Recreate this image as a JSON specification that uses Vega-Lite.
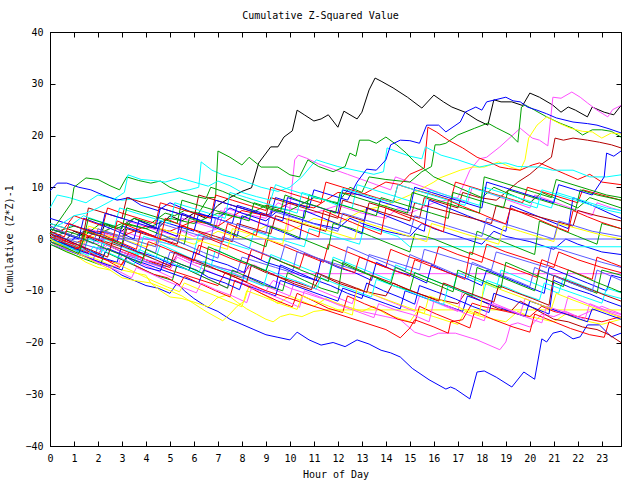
{"$schema":"https://vega.github.io/schema/vega-lite/v6.json","width":571,"height":414,"autosize":{"type":"none"},"padding":{"left":50,"top":32,"right":19,"bottom":34},"background":"white",
"title":{"text":"Cumulative Z-Squared Value","font":"DejaVu Sans Mono","fontSize":10,"fontWeight":"normal","color":"black","offset":6,"dx":-15},
"config":{"view":{"stroke":"black","strokeWidth":1},"axis":{"grid":false,"domainColor":"black","tickColor":"black","labelColor":"black","titleColor":"black","labelFont":"DejaVu Sans Mono","titleFont":"DejaVu Sans Mono","labelFontSize":10,"titleFontSize":10,"titleFontWeight":"normal","tickSize":-5}},
"data":{"values":[
{"s":1,"h":0,"v":0},{"s":1,"h":0.5,"v":-1},{"s":1,"h":1,"v":1.5},{"s":1,"h":1.5,"v":0.5},{"s":1,"h":2,"v":-0.5},{"s":1,"h":2.3,"v":3},{"s":1,"h":3,"v":1.5},{"s":1,"h":3.5,"v":4},{"s":1,"h":4,"v":3},{"s":1,"h":4.5,"v":2},{"s":1,"h":5,"v":4.5},{"s":1,"h":5.5,"v":3.5},{"s":1,"h":6,"v":5},{"s":1,"h":6.5,"v":4},{"s":1,"h":7,"v":6.5},{"s":1,"h":7.5,"v":8},{"s":1,"h":8,"v":9.2},{"s":1,"h":8.4,"v":9.9},{"s":1,"h":8.7,"v":14.7},{"s":1,"h":9.2,"v":17.8},{"s":1,"h":9.5,"v":17.8},{"s":1,"h":9.75,"v":19.7},{"s":1,"h":10.1,"v":20.9},{"s":1,"h":10.3,"v":24.9},{"s":1,"h":10.6,"v":24},{"s":1,"h":11,"v":22.8},{"s":1,"h":11.3,"v":23.2},{"s":1,"h":11.6,"v":24},{"s":1,"h":12,"v":21.6},{"s":1,"h":12.25,"v":24.7},{"s":1,"h":12.8,"v":23.2},{"s":1,"h":13,"v":24.5},{"s":1,"h":13.3,"v":28.8},{"s":1,"h":13.55,"v":31.1},{"s":1,"h":13.8,"v":30.5},{"s":1,"h":14.3,"v":29.2},{"s":1,"h":14.9,"v":27.4},{"s":1,"h":15.5,"v":25.3},{"s":1,"h":16,"v":27.8},{"s":1,"h":16.4,"v":26.5},{"s":1,"h":16.75,"v":25.5},{"s":1,"h":17.3,"v":24.5},{"s":1,"h":17.8,"v":23},{"s":1,"h":18.25,"v":22},{"s":1,"h":18.5,"v":26.9},{"s":1,"h":18.8,"v":26.5},{"s":1,"h":19.25,"v":26.5},{"s":1,"h":19.7,"v":25.8},{"s":1,"h":20,"v":28.2},{"s":1,"h":20.4,"v":27.4},{"s":1,"h":20.95,"v":25.9},{"s":1,"h":21.3,"v":24.5},{"s":1,"h":21.6,"v":25.5},{"s":1,"h":21.9,"v":24.9},{"s":1,"h":22.4,"v":23.6},{"s":1,"h":22.6,"v":25.5},{"s":1,"h":23.1,"v":24.5},{"s":1,"h":23.5,"v":24},{"s":1,"h":23.8,"v":25.8},
{"s":2,"h":0,"v":1},{"s":2,"h":0.5,"v":-0.5},{"s":2,"h":1,"v":-2},{"s":2,"h":1.5,"v":-3.5},{"s":2,"h":2,"v":-4.5},{"s":2,"h":2.5,"v":-5.5},{"s":2,"h":3,"v":-7},{"s":2,"h":3.5,"v":-8},{"s":2,"h":4,"v":-9},{"s":2,"h":4.5,"v":-9.5},{"s":2,"h":5,"v":-10.5},{"s":2,"h":5.3,"v":-8.5},{"s":2,"h":5.6,"v":-10},{"s":2,"h":6,"v":-11.5},{"s":2,"h":6.5,"v":-13},{"s":2,"h":7,"v":-14},{"s":2,"h":7.5,"v":-15.5},{"s":2,"h":8,"v":-16.5},{"s":2,"h":8.5,"v":-17.5},{"s":2,"h":9,"v":-18.5},{"s":2,"h":9.5,"v":-19},{"s":2,"h":10,"v":-19.5},{"s":2,"h":10.3,"v":-18},{"s":2,"h":10.8,"v":-19.5},{"s":2,"h":11.3,"v":-20.5},{"s":2,"h":11.8,"v":-20},{"s":2,"h":12.3,"v":-20.8},{"s":2,"h":12.8,"v":-19.5},{"s":2,"h":13.3,"v":-20.3},{"s":2,"h":13.8,"v":-21.5},{"s":2,"h":14.2,"v":-22},{"s":2,"h":14.6,"v":-22.8},{"s":2,"h":15.1,"v":-25},{"s":2,"h":15.8,"v":-27.2},{"s":2,"h":16.5,"v":-29},{"s":2,"h":16.7,"v":-28.6},{"s":2,"h":16.9,"v":-29},{"s":2,"h":17.5,"v":-30.9},{"s":2,"h":17.8,"v":-25.7},{"s":2,"h":18.1,"v":-25.5},{"s":2,"h":18.6,"v":-26.7},{"s":2,"h":19.25,"v":-28.6},{"s":2,"h":19.75,"v":-25.7},{"s":2,"h":20.2,"v":-27.1},{"s":2,"h":20.5,"v":-19.3},{"s":2,"h":20.7,"v":-19.9},{"s":2,"h":20.96,"v":-18.2},{"s":2,"h":21.3,"v":-17.8},{"s":2,"h":21.8,"v":-19.3},{"s":2,"h":22.1,"v":-18.9},{"s":2,"h":22.4,"v":-16.6},{"s":2,"h":22.9,"v":-16.6},{"s":2,"h":23.4,"v":-18.9},{"s":2,"h":23.8,"v":-18.2},
{"s":3,"h":0,"v":0},{"s":3,"h":1,"v":-2},{"s":3,"h":2,"v":-3.5},{"s":3,"h":2.4,"v":-1},{"s":3,"h":3,"v":-2.5},{"s":3,"h":4,"v":-4.5},{"s":3,"h":5,"v":-6},{"s":3,"h":5.3,"v":-3.5},{"s":3,"h":6,"v":-5},{"s":3,"h":7,"v":-7},{"s":3,"h":8,"v":-8.5},{"s":3,"h":9,"v":-10},{"s":3,"h":9.3,"v":-8},{"s":3,"h":10,"v":-9.5},{"s":3,"h":11,"v":-11},{"s":3,"h":12,"v":-12.5},{"s":3,"h":13,"v":-14},{"s":3,"h":14,"v":-15},{"s":3,"h":14.6,"v":-15.6},{"s":3,"h":15.2,"v":-18},{"s":3,"h":15.8,"v":-18.9},{"s":3,"h":16.2,"v":-18.2},{"s":3,"h":16.9,"v":-18.2},{"s":3,"h":17.8,"v":-19.5},{"s":3,"h":18.75,"v":-21.4},{"s":3,"h":19,"v":-19.9},{"s":3,"h":19.2,"v":-16.6},{"s":3,"h":19.5,"v":-16.2},{"s":3,"h":20,"v":-17},{"s":3,"h":20.5,"v":-14.5},{"s":3,"h":21,"v":-15},{"s":3,"h":21.5,"v":-14},{"s":3,"h":22,"v":-15},{"s":3,"h":22.5,"v":-14},{"s":3,"h":23,"v":-13},{"s":3,"h":23.8,"v":-14.5},
{"s":4,"h":0,"v":2},{"s":4,"h":1,"v":0.5},{"s":4,"h":2,"v":-1},{"s":4,"h":2.5,"v":2.5},{"s":4,"h":3,"v":1.5},{"s":4,"h":4,"v":0},{"s":4,"h":5,"v":-1},{"s":4,"h":5.5,"v":1.5},{"s":4,"h":6,"v":0.5},{"s":4,"h":7,"v":2},{"s":4,"h":7.3,"v":6},{"s":4,"h":8,"v":5},{"s":4,"h":9,"v":4},{"s":4,"h":9.5,"v":7},{"s":4,"h":10,"v":6},{"s":4,"h":11,"v":5},{"s":4,"h":12,"v":6.5},{"s":4,"h":13,"v":5},{"s":4,"h":14,"v":4},{"s":4,"h":14.5,"v":6},{"s":4,"h":15,"v":5},{"s":4,"h":16,"v":7},{"s":4,"h":17,"v":8},{"s":4,"h":17.1,"v":9},{"s":4,"h":17.5,"v":13.3},{"s":4,"h":17.9,"v":15.5},{"s":4,"h":18.2,"v":15.8},{"s":4,"h":18.75,"v":17.8},{"s":4,"h":19.6,"v":21.4},{"s":4,"h":20.1,"v":19.5},{"s":4,"h":20.4,"v":19.1},{"s":4,"h":20.75,"v":18},{"s":4,"h":20.96,"v":27.4},{"s":4,"h":21.3,"v":27.2},{"s":4,"h":21.75,"v":28.4},{"s":4,"h":22.1,"v":27.4},{"s":4,"h":22.4,"v":26.3},{"s":4,"h":22.8,"v":24.9},{"s":4,"h":23.25,"v":23.6},{"s":4,"h":23.45,"v":25},{"s":4,"h":23.8,"v":25.8},
{"s":5,"h":0,"v":0.5},{"s":5,"h":0.7,"v":-0.5},{"s":5,"h":1.4,"v":-1.5},{"s":5,"h":1.6,"v":2},{"s":5,"h":2.3,"v":1},{"s":5,"h":3,"v":0},{"s":5,"h":3.2,"v":3.5},{"s":5,"h":3.9,"v":2.5},{"s":5,"h":4.6,"v":1.5},{"s":5,"h":5.3,"v":0.5},{"s":5,"h":5.5,"v":4},{"s":5,"h":6.2,"v":3},{"s":5,"h":6.9,"v":2},{"s":5,"h":7.1,"v":5.5},{"s":5,"h":7.8,"v":4.5},{"s":5,"h":8.5,"v":3.5},{"s":5,"h":9.2,"v":2.5},{"s":5,"h":9.9,"v":1.5},{"s":5,"h":10.2,"v":15.3},{"s":5,"h":10.35,"v":16.2},{"s":5,"h":10.7,"v":15.6},{"s":5,"h":11.2,"v":14.5},{"s":5,"h":11.8,"v":13.5},{"s":5,"h":12.4,"v":12.5},{"s":5,"h":13,"v":11.5},{"s":5,"h":13.6,"v":10.5},{"s":5,"h":14.2,"v":9.5},{"s":5,"h":14.4,"v":12},{"s":5,"h":15,"v":11},{"s":5,"h":15.6,"v":10},{"s":5,"h":16.2,"v":9},{"s":5,"h":16.8,"v":8},{"s":5,"h":17.4,"v":7},{"s":5,"h":17.6,"v":10},{"s":5,"h":18.2,"v":9},{"s":5,"h":18.8,"v":8},{"s":5,"h":19.4,"v":7},{"s":5,"h":20,"v":6},{"s":5,"h":20.2,"v":8.5},{"s":5,"h":20.8,"v":7.5},{"s":5,"h":21.4,"v":6.5},{"s":5,"h":22,"v":5.5},{"s":5,"h":22.6,"v":4.5},{"s":5,"h":22.8,"v":7},{"s":5,"h":23.4,"v":6},{"s":5,"h":23.8,"v":5.5},
{"s":6,"h":0,"v":1},{"s":6,"h":1,"v":2.5},{"s":6,"h":2,"v":1},{"s":6,"h":3,"v":3},{"s":6,"h":4,"v":2},{"s":6,"h":5,"v":4},{"s":6,"h":6,"v":3},{"s":6,"h":7,"v":5},{"s":6,"h":8,"v":4},{"s":6,"h":9,"v":6.5},{"s":6,"h":10,"v":5.5},{"s":6,"h":11,"v":8},{"s":6,"h":12,"v":7},{"s":6,"h":12.5,"v":10},{"s":6,"h":13,"v":9},{"s":6,"h":13.3,"v":12},{"s":6,"h":14,"v":11.5},{"s":6,"h":15,"v":11},{"s":6,"h":15.5,"v":13},{"s":6,"h":15.9,"v":14},{"s":6,"h":16.05,"v":18.2},{"s":6,"h":16.25,"v":18.2},{"s":6,"h":16.5,"v":18.5},{"s":6,"h":17,"v":20.1},{"s":6,"h":17.7,"v":21.4},{"s":6,"h":18.25,"v":22.4},{"s":6,"h":18.6,"v":21.5},{"s":6,"h":19.2,"v":20.1},{"s":6,"h":19.5,"v":18.7},{"s":6,"h":19.65,"v":25.5},{"s":6,"h":19.8,"v":25.9},{"s":6,"h":20.2,"v":24.9},{"s":6,"h":20.7,"v":23.6},{"s":6,"h":21.25,"v":22.4},{"s":6,"h":21.8,"v":21.4},{"s":6,"h":22.2,"v":20.1},{"s":6,"h":22.6,"v":21.1},{"s":6,"h":23,"v":21.1},{"s":6,"h":23.4,"v":20.8},{"s":6,"h":23.8,"v":19.7},
{"s":7,"h":0,"v":0},{"s":7,"h":1,"v":-1.5},{"s":7,"h":2,"v":1},{"s":7,"h":3,"v":0},{"s":7,"h":4,"v":-1.5},{"s":7,"h":5,"v":0.5},{"s":7,"h":6,"v":-1},{"s":7,"h":7,"v":1.5},{"s":7,"h":8,"v":0},{"s":7,"h":9,"v":2.5},{"s":7,"h":10,"v":1.5},{"s":7,"h":11,"v":4},{"s":7,"h":12,"v":3},{"s":7,"h":13,"v":5.5},{"s":7,"h":14,"v":6.5},{"s":7,"h":15,"v":8.5},{"s":7,"h":16,"v":11},{"s":7,"h":16.25,"v":11.8},{"s":7,"h":17.1,"v":13.3},{"s":7,"h":17.6,"v":13.9},{"s":7,"h":18.1,"v":13.9},{"s":7,"h":18.7,"v":14.9},{"s":7,"h":19.2,"v":13.9},{"s":7,"h":19.6,"v":13.3},{"s":7,"h":19.8,"v":15.3},{"s":7,"h":19.95,"v":19.5},{"s":7,"h":20.3,"v":22},{"s":7,"h":20.7,"v":23.6},{"s":7,"h":21.2,"v":22.4},{"s":7,"h":21.7,"v":21.4},{"s":7,"h":22.2,"v":20.8},{"s":7,"h":22.6,"v":20.7},{"s":7,"h":23,"v":19.5},{"s":7,"h":23.4,"v":20.5},{"s":7,"h":23.8,"v":20.3},
{"s":8,"h":0,"v":0.5},{"s":8,"h":1,"v":-1},{"s":8,"h":2,"v":1.5},{"s":8,"h":3,"v":0.5},{"s":8,"h":4,"v":2.5},{"s":8,"h":5,"v":1.5},{"s":8,"h":6,"v":3.5},{"s":8,"h":7,"v":2.5},{"s":8,"h":8,"v":5.5},{"s":8,"h":9,"v":4.5},{"s":8,"h":10,"v":7},{"s":8,"h":11,"v":6},{"s":8,"h":12,"v":9},{"s":8,"h":13,"v":8.5},{"s":8,"h":14,"v":11},{"s":8,"h":14.6,"v":10.5},{"s":8,"h":15,"v":12.5},{"s":8,"h":15.6,"v":13.7},{"s":8,"h":15.75,"v":21.6},{"s":8,"h":16.1,"v":20.7},{"s":8,"h":16.6,"v":19.1},{"s":8,"h":17.2,"v":17.6},{"s":8,"h":17.8,"v":15.8},{"s":8,"h":18.3,"v":14.9},{"s":8,"h":18.75,"v":13.9},{"s":8,"h":19.1,"v":13.6},{"s":8,"h":19.6,"v":13.3},{"s":8,"h":20.1,"v":14.3},{"s":8,"h":20.4,"v":14.7},{"s":8,"h":21,"v":13.5},{"s":8,"h":21.5,"v":12.5},{"s":8,"h":22,"v":11.5},{"s":8,"h":22.5,"v":12.5},{"s":8,"h":23,"v":11},{"s":8,"h":23.8,"v":10.5},
{"s":9,"h":0,"v":-0.5},{"s":9,"h":0.7,"v":-1.5},{"s":9,"h":1.4,"v":-2.5},{"s":9,"h":1.6,"v":0.5},{"s":9,"h":2.3,"v":-0.5},{"s":9,"h":3,"v":-1.5},{"s":9,"h":3.2,"v":2},{"s":9,"h":3.9,"v":1},{"s":9,"h":4.6,"v":0},{"s":9,"h":5.3,"v":-1},{"s":9,"h":5.5,"v":2.5},{"s":9,"h":6.2,"v":1.5},{"s":9,"h":6.9,"v":0.5},{"s":9,"h":7.6,"v":-0.5},{"s":9,"h":7.8,"v":3},{"s":9,"h":8.5,"v":2},{"s":9,"h":9.2,"v":1},{"s":9,"h":9.4,"v":4.5},{"s":9,"h":10.1,"v":3.5},{"s":9,"h":10.8,"v":2.5},{"s":9,"h":11.5,"v":1.5},{"s":9,"h":11.7,"v":5.5},{"s":9,"h":12.4,"v":4.5},{"s":9,"h":13.1,"v":3.5},{"s":9,"h":13.3,"v":7},{"s":9,"h":14,"v":6},{"s":9,"h":14.7,"v":5},{"s":9,"h":15.4,"v":4},{"s":9,"h":15.6,"v":8},{"s":9,"h":16.3,"v":7},{"s":9,"h":17,"v":6},{"s":9,"h":17.2,"v":9},{"s":9,"h":17.9,"v":8},{"s":9,"h":18.6,"v":7.5},{"s":9,"h":19,"v":9},{"s":9,"h":19.5,"v":11},{"s":9,"h":20,"v":12.5},{"s":9,"h":20.5,"v":14.5},{"s":9,"h":20.9,"v":15.8},{"s":9,"h":21.05,"v":19.5},{"s":9,"h":21.4,"v":19.1},{"s":9,"h":21.8,"v":19.5},{"s":9,"h":22.4,"v":19.1},{"s":9,"h":22.9,"v":18.7},{"s":9,"h":23.4,"v":18.2},{"s":9,"h":23.8,"v":17.6},
{"s":10,"h":0,"v":6},{"s":10,"h":0.3,"v":8.5},{"s":10,"h":0.8,"v":8},{"s":10,"h":1.5,"v":7},{"s":10,"h":2,"v":8.5},{"s":10,"h":3,"v":7.5},{"s":10,"h":4,"v":8},{"s":10,"h":5,"v":9},{"s":10,"h":5.8,"v":9.5},{"s":10,"h":6.2,"v":10},{"s":10,"h":6.3,"v":14.9},{"s":10,"h":6.75,"v":13.3},{"s":10,"h":7.2,"v":12.4},{"s":10,"h":7.7,"v":11.8},{"s":10,"h":8.2,"v":11},{"s":10,"h":8.8,"v":10},{"s":10,"h":9.5,"v":9.2},{"s":10,"h":10,"v":10},{"s":10,"h":10.5,"v":12},{"s":10,"h":11.1,"v":15.3},{"s":10,"h":11.5,"v":14.7},{"s":10,"h":12,"v":14},{"s":10,"h":12.5,"v":13.5},{"s":10,"h":13,"v":13},{"s":10,"h":13.5,"v":12.5},{"s":10,"h":13.9,"v":13},{"s":10,"h":14.05,"v":17.6},{"s":10,"h":14.5,"v":16.8},{"s":10,"h":15,"v":16},{"s":10,"h":15.5,"v":15.5},{"s":10,"h":15.65,"v":17.8},{"s":10,"h":16.3,"v":16.2},{"s":10,"h":17,"v":15.3},{"s":10,"h":17.9,"v":13.9},{"s":10,"h":18.5,"v":14.5},{"s":10,"h":19,"v":14.7},{"s":10,"h":19.5,"v":14},{"s":10,"h":20.4,"v":13.9},{"s":10,"h":20.95,"v":13.3},{"s":10,"h":21.8,"v":13.3},{"s":10,"h":22.5,"v":12},{"s":10,"h":23.2,"v":12},{"s":10,"h":23.8,"v":12.4},
{"s":11,"h":0,"v":9.3},{"s":11,"h":0.3,"v":10.8},{"s":11,"h":0.7,"v":10.8},{"s":11,"h":1.2,"v":10},{"s":11,"h":1.7,"v":9.5},{"s":11,"h":2.2,"v":8.5},{"s":11,"h":2.8,"v":7.5},{"s":11,"h":3.3,"v":8},{"s":11,"h":3.8,"v":6.5},{"s":11,"h":4.5,"v":5.5},{"s":11,"h":5,"v":7},{"s":11,"h":5.5,"v":6},{"s":11,"h":6,"v":5},{"s":11,"h":7,"v":4},{"s":11,"h":7.5,"v":6},{"s":11,"h":8,"v":5},{"s":11,"h":9,"v":3.5},{"s":11,"h":9.5,"v":5.5},{"s":11,"h":10,"v":4.5},{"s":11,"h":11,"v":3},{"s":11,"h":12,"v":2},{"s":11,"h":12.5,"v":4},{"s":11,"h":13,"v":3},{"s":11,"h":14,"v":1.5},{"s":11,"h":15,"v":0.5},{"s":11,"h":15.5,"v":3},{"s":11,"h":16,"v":2},{"s":11,"h":17,"v":0.5},{"s":11,"h":18,"v":-1},{"s":11,"h":18.5,"v":1.5},{"s":11,"h":19,"v":0.5},{"s":11,"h":20,"v":-0.5},{"s":11,"h":21,"v":-2},{"s":11,"h":21.5,"v":0},{"s":11,"h":22,"v":-1},{"s":11,"h":23,"v":-2.5},{"s":11,"h":23.8,"v":-3},
{"s":12,"h":0,"v":-0.5},{"s":12,"h":0.5,"v":-2},{"s":12,"h":1,"v":-3},{"s":12,"h":1.5,"v":-4.5},{"s":12,"h":2,"v":-5.5},{"s":12,"h":2.5,"v":-6},{"s":12,"h":3,"v":-7.5},{"s":12,"h":3.5,"v":-8},{"s":12,"h":4.2,"v":-8.5},{"s":12,"h":4.6,"v":-10},{"s":12,"h":5,"v":-11.2},{"s":12,"h":5.5,"v":-11.5},{"s":12,"h":6,"v":-12.2},{"s":12,"h":6.6,"v":-13.1},{"s":12,"h":6.96,"v":-11.4},{"s":12,"h":7.4,"v":-10.8},{"s":12,"h":7.8,"v":-12.2},{"s":12,"h":8.2,"v":-13.5},{"s":12,"h":8.6,"v":-14.5},{"s":12,"h":9,"v":-15.5},{"s":12,"h":9.3,"v":-16},{"s":12,"h":9.6,"v":-15},{"s":12,"h":10,"v":-14.5},{"s":12,"h":10.5,"v":-15},{"s":12,"h":11,"v":-14},{"s":12,"h":11.5,"v":-13.7},{"s":12,"h":23.8,"v":-13.7},
{"s":13,"h":0,"v":0},{"s":13,"h":1,"v":-2.5},{"s":13,"h":2,"v":-4},{"s":13,"h":3,"v":-6},{"s":13,"h":4,"v":-7},{"s":13,"h":4.2,"v":-8.5},{"s":13,"h":5,"v":-10},{"s":13,"h":5.5,"v":-11},{"s":13,"h":6,"v":-12.5},{"s":13,"h":6.5,"v":-14},{"s":13,"h":7.2,"v":-15.8},{"s":13,"h":7.5,"v":-14.5},{"s":13,"h":7.8,"v":-13},{"s":13,"h":8.1,"v":-12},{"s":13,"h":8.3,"v":-9},{"s":13,"h":8.6,"v":-10},{"s":13,"h":9,"v":-11},{"s":13,"h":9.5,"v":-12.5},{"s":13,"h":10,"v":-11},{"s":13,"h":11,"v":-13},{"s":13,"h":11.5,"v":-11.5},{"s":13,"h":12,"v":-12.5},{"s":13,"h":13,"v":-14},{"s":13,"h":13.5,"v":-13},{"s":13,"h":14,"v":-14.5},{"s":13,"h":15,"v":-16},{"s":13,"h":15.3,"v":-14},{"s":13,"h":16,"v":-15},{"s":13,"h":17,"v":-16.5},{"s":13,"h":17.3,"v":-14},{"s":13,"h":18,"v":-15},{"s":13,"h":19,"v":-16},{"s":13,"h":19.5,"v":-14},{"s":13,"h":20,"v":-15},{"s":13,"h":21,"v":-16},{"s":13,"h":21.5,"v":-14.5},{"s":13,"h":22,"v":-15.5},{"s":13,"h":23,"v":-16.5},{"s":13,"h":23.8,"v":-15.5},
{"s":14,"h":0,"v":0},{"s":14,"h":1,"v":-1.5},{"s":14,"h":2,"v":-3},{"s":14,"h":2.3,"v":-1},{"s":14,"h":3,"v":-2.5},{"s":14,"h":4,"v":-4},{"s":14,"h":5,"v":-5.5},{"s":14,"h":5.3,"v":-3},{"s":14,"h":6,"v":-4.5},{"s":14,"h":7,"v":-6},{"s":14,"h":8,"v":-7.5},{"s":14,"h":8.3,"v":-5},{"s":14,"h":9,"v":-6.5},{"s":14,"h":10,"v":-8},{"s":14,"h":11,"v":-9.5},{"s":14,"h":11.3,"v":-7},{"s":14,"h":12,"v":-8.5},{"s":14,"h":13,"v":-10},{"s":14,"h":14,"v":-11},{"s":14,"h":14.3,"v":-8.5},{"s":14,"h":15,"v":-10},{"s":14,"h":16,"v":-11.5},{"s":14,"h":17,"v":-12.5},{"s":14,"h":17.3,"v":-10.5},{"s":14,"h":18,"v":-12},{"s":14,"h":18.7,"v":-13.5},{"s":14,"h":19.2,"v":-14},{"s":14,"h":19.6,"v":-12},{"s":14,"h":20,"v":-13},{"s":14,"h":20.6,"v":-14.5},{"s":14,"h":21,"v":-15.5},{"s":14,"h":21.6,"v":-16},{"s":14,"h":22.2,"v":-17},{"s":14,"h":22.8,"v":-17.5},{"s":14,"h":23.3,"v":-18.5},{"s":14,"h":23.8,"v":-20},
{"s":15,"h":0,"v":0},{"s":15,"h":1,"v":-1.5},{"s":15,"h":2,"v":-3.5},{"s":15,"h":3,"v":-5},{"s":15,"h":3.3,"v":-2.5},{"s":15,"h":4,"v":-4},{"s":15,"h":5,"v":-6},{"s":15,"h":6,"v":-7.5},{"s":15,"h":7,"v":-9},{"s":15,"h":7.3,"v":-6.5},{"s":15,"h":8,"v":-8},{"s":15,"h":9,"v":-10},{"s":15,"h":10,"v":-11.5},{"s":15,"h":11,"v":-13},{"s":15,"h":12,"v":-14.5},{"s":15,"h":13,"v":-16},{"s":15,"h":14,"v":-17.5},{"s":15,"h":14.6,"v":-19.1},{"s":15,"h":15,"v":-17.2},{"s":15,"h":15.2,"v":-15.6},{"s":15,"h":16,"v":-17},{"s":15,"h":16.6,"v":-18.2},{"s":15,"h":16.7,"v":-16},{"s":15,"h":17.2,"v":-15.6},{"s":15,"h":17.6,"v":-12.4},{"s":15,"h":18,"v":-13},{"s":15,"h":19,"v":-14},{"s":15,"h":20,"v":-15},{"s":15,"h":20.5,"v":-13},{"s":15,"h":21,"v":-14},{"s":15,"h":22,"v":-15},{"s":15,"h":23,"v":-16},{"s":15,"h":23.8,"v":-15},
{"s":16,"h":0,"v":0},{"s":16,"h":23.8,"v":0},
{"s":17,"h":0,"v":0},{"s":17,"h":1,"v":-1.5},{"s":17,"h":2,"v":-3},{"s":17,"h":2.3,"v":-1},{"s":17,"h":3,"v":-2.5},{"s":17,"h":4,"v":-4},{"s":17,"h":5,"v":-5},{"s":17,"h":5.3,"v":-3},{"s":17,"h":6,"v":-4.5},{"s":17,"h":7,"v":-5.5},{"s":17,"h":8,"v":-6.5},{"s":17,"h":8.5,"v":-5},{"s":17,"h":9.2,"v":-6.7},{"s":17,"h":23.8,"v":-6.7},
{"s":18,"h":0,"v":-0.5},{"s":18,"h":0.7,"v":-1.5},{"s":18,"h":1.4,"v":-2.5},{"s":18,"h":1.6,"v":0},{"s":18,"h":2.3,"v":-1},{"s":18,"h":3,"v":-2},{"s":18,"h":3.7,"v":-3},{"s":18,"h":3.9,"v":0.5},{"s":18,"h":4.6,"v":-0.5},{"s":18,"h":5.3,"v":-1.5},{"s":18,"h":6,"v":-2.5},{"s":18,"h":6.2,"v":1},{"s":18,"h":6.9,"v":0},{"s":18,"h":7.6,"v":-1},{"s":18,"h":8.3,"v":-2},{"s":18,"h":8.5,"v":1.5},{"s":18,"h":9.2,"v":0.5},{"s":18,"h":9.9,"v":-0.5},{"s":18,"h":10.6,"v":-1.5},{"s":18,"h":10.8,"v":2},{"s":18,"h":11.5,"v":1},{"s":18,"h":12.2,"v":0},{"s":18,"h":12.9,"v":-1},{"s":18,"h":13.1,"v":2.5},{"s":18,"h":13.8,"v":1.5},{"s":18,"h":14.5,"v":0.5},{"s":18,"h":15,"v":-1.5},{"s":18,"h":23.8,"v":-1.5},
{"s":19,"h":0,"v":0},{"s":19,"h":0.7,"v":1.5},{"s":19,"h":1.4,"v":0.5},{"s":19,"h":2.1,"v":3},{"s":19,"h":2.8,"v":2},{"s":19,"h":3.5,"v":4},{"s":19,"h":4.2,"v":3},{"s":19,"h":4.8,"v":5},{"s":19,"h":5.2,"v":4.5},{"s":19,"h":5.6,"v":5.5},{"s":19,"h":6.2,"v":5},{"s":19,"h":6.6,"v":8},{"s":19,"h":6.9,"v":8},{"s":19,"h":7,"v":17},{"s":19,"h":7.5,"v":15.8},{"s":19,"h":8,"v":14.3},{"s":19,"h":8.3,"v":15.8},{"s":19,"h":8.8,"v":13.9},{"s":19,"h":9.5,"v":13.9},{"s":19,"h":10,"v":12.4},{"s":19,"h":10.4,"v":12},{"s":19,"h":10.75,"v":15.3},{"s":19,"h":11.2,"v":14},{"s":19,"h":11.8,"v":13},{"s":19,"h":12.3,"v":14},{"s":19,"h":12.5,"v":16.6},{"s":19,"h":12.75,"v":16},{"s":19,"h":12.9,"v":19.1},{"s":19,"h":13.3,"v":19.1},{"s":19,"h":13.6,"v":18.5},{"s":19,"h":14,"v":19.7},{"s":19,"h":14.45,"v":18.2},{"s":19,"h":14.85,"v":16.6},{"s":19,"h":15.2,"v":14.9},{"s":19,"h":15.6,"v":13.5},{"s":19,"h":16,"v":12},{"s":19,"h":16.5,"v":11},{"s":19,"h":17,"v":10},{"s":19,"h":17.5,"v":9},{"s":19,"h":18,"v":8},{"s":19,"h":18.5,"v":10},{"s":19,"h":19,"v":9},{"s":19,"h":20,"v":7},{"s":19,"h":20.5,"v":9},{"s":19,"h":21,"v":8},{"s":19,"h":22,"v":6},{"s":19,"h":22.5,"v":8},{"s":19,"h":23.8,"v":6},
{"s":20,"h":0,"v":0},{"s":20,"h":0.7,"v":-1},{"s":20,"h":1.4,"v":1.5},{"s":20,"h":2.1,"v":0.5},{"s":20,"h":2.8,"v":-0.5},{"s":20,"h":3,"v":2.5},{"s":20,"h":3.7,"v":1.5},{"s":20,"h":4.4,"v":0.5},{"s":20,"h":4.6,"v":3.5},{"s":20,"h":5.3,"v":2.5},{"s":20,"h":6,"v":1.5},{"s":20,"h":6.2,"v":5},{"s":20,"h":6.9,"v":4},{"s":20,"h":7.6,"v":3},{"s":20,"h":7.8,"v":6.5},{"s":20,"h":8.5,"v":5.5},{"s":20,"h":9.2,"v":4.5},{"s":20,"h":9.4,"v":8},{"s":20,"h":10.1,"v":7},{"s":20,"h":10.8,"v":6},{"s":20,"h":11,"v":9.5},{"s":20,"h":11.7,"v":8.5},{"s":20,"h":12.4,"v":7.5},{"s":20,"h":12.8,"v":11},{"s":20,"h":13.2,"v":13.5},{"s":20,"h":13.6,"v":13.3},{"s":20,"h":14,"v":15.3},{"s":20,"h":14.2,"v":18.2},{"s":20,"h":14.6,"v":19.1},{"s":20,"h":15,"v":19},{"s":20,"h":15.4,"v":18.5},{"s":20,"h":15.7,"v":22},{"s":20,"h":16.2,"v":22},{"s":20,"h":16.5,"v":20.7},{"s":20,"h":17.1,"v":22.6},{"s":20,"h":17.3,"v":24.5},{"s":20,"h":17.75,"v":25.5},{"s":20,"h":18,"v":24.9},{"s":20,"h":18.2,"v":26.5},{"s":20,"h":19,"v":27.4},{"s":20,"h":19.3,"v":26.7},{"s":20,"h":19.6,"v":26.5},{"s":20,"h":19.9,"v":25.5},{"s":20,"h":20.3,"v":24.9},{"s":20,"h":20.7,"v":24.2},{"s":20,"h":21.1,"v":23.4},{"s":20,"h":21.8,"v":22.6},{"s":20,"h":22.4,"v":22.3},{"s":20,"h":22.8,"v":22},{"s":20,"h":23.3,"v":21.3},{"s":20,"h":23.8,"v":20.5},
{"s":21,"h":0,"v":1},{"s":21,"h":0.7,"v":-0.5},{"s":21,"h":1.3,"v":-1.8},{"s":21,"h":1.5,"v":2},{"s":21,"h":2.2,"v":0.8},{"s":21,"h":3,"v":-0.8},{"s":21,"h":3.6,"v":-2},{"s":21,"h":3.8,"v":1.5},{"s":21,"h":4.6,"v":0},{"s":21,"h":5.4,"v":-1.5},{"s":21,"h":6.2,"v":-3},{"s":21,"h":6.4,"v":0.5},{"s":21,"h":7.2,"v":-1},{"s":21,"h":8,"v":-2.5},{"s":21,"h":8.8,"v":-4},{"s":21,"h":9,"v":0},{"s":21,"h":9.8,"v":-1.5},{"s":21,"h":10.6,"v":-3},{"s":21,"h":11.4,"v":-4.5},{"s":21,"h":11.6,"v":-1},{"s":21,"h":12.4,"v":-2.5},{"s":21,"h":13.2,"v":-4},{"s":21,"h":14,"v":-5.5},{"s":21,"h":14.2,"v":-2},{"s":21,"h":15,"v":-3.5},{"s":21,"h":16,"v":-5},{"s":21,"h":16.2,"v":-1.5},{"s":21,"h":17,"v":-3},{"s":21,"h":18,"v":-4.5},{"s":21,"h":18.2,"v":-1},{"s":21,"h":19,"v":-2.5},{"s":21,"h":20,"v":-4},{"s":21,"h":21,"v":-5.5},{"s":21,"h":21.2,"v":-2.5},{"s":21,"h":22,"v":-4},{"s":21,"h":23,"v":-5.5},{"s":21,"h":23.8,"v":-6.5},
{"s":22,"h":0,"v":2},{"s":22,"h":0.6,"v":1},{"s":22,"h":1.2,"v":0},{"s":22,"h":1.4,"v":4},{"s":22,"h":2,"v":3},{"s":22,"h":2.8,"v":1.5},{"s":22,"h":3.5,"v":0},{"s":22,"h":3.7,"v":3.5},{"s":22,"h":4.5,"v":2},{"s":22,"h":5.3,"v":0.5},{"s":22,"h":5.5,"v":5},{"s":22,"h":6.3,"v":3.5},{"s":22,"h":7,"v":2},{"s":22,"h":7.8,"v":0.5},{"s":22,"h":8,"v":4.5},{"s":22,"h":8.8,"v":3},{"s":22,"h":9.6,"v":1.5},{"s":22,"h":10.4,"v":0},{"s":22,"h":10.6,"v":5.5},{"s":22,"h":11.4,"v":4},{"s":22,"h":12.2,"v":2.5},{"s":22,"h":13,"v":1},{"s":22,"h":13.2,"v":6},{"s":22,"h":14,"v":4.5},{"s":22,"h":14.8,"v":3},{"s":22,"h":15.6,"v":1.5},{"s":22,"h":15.8,"v":7.5},{"s":22,"h":16.6,"v":6},{"s":22,"h":17.4,"v":4.5},{"s":22,"h":18.2,"v":3},{"s":22,"h":19,"v":1.5},{"s":22,"h":19.2,"v":6.5},{"s":22,"h":20,"v":5},{"s":22,"h":20.8,"v":3.5},{"s":22,"h":21.6,"v":2},{"s":22,"h":21.8,"v":8},{"s":22,"h":22.6,"v":6.5},{"s":22,"h":23.3,"v":5},{"s":22,"h":23.8,"v":4},
{"s":23,"h":0,"v":0},{"s":23,"h":0.6,"v":-1},{"s":23,"h":1.2,"v":-2},{"s":23,"h":1.4,"v":1.5},{"s":23,"h":2.2,"v":0.5},{"s":23,"h":3,"v":-1},{"s":23,"h":3.2,"v":3},{"s":23,"h":4,"v":2},{"s":23,"h":4.8,"v":0.5},{"s":23,"h":5.6,"v":-1},{"s":23,"h":5.8,"v":4},{"s":23,"h":6.6,"v":3},{"s":23,"h":7.4,"v":1.5},{"s":23,"h":8.2,"v":0},{"s":23,"h":9,"v":-1.5},{"s":23,"h":9.2,"v":2.5},{"s":23,"h":10,"v":1},{"s":23,"h":10.8,"v":-0.5},{"s":23,"h":11.6,"v":-2},{"s":23,"h":11.8,"v":3},{"s":23,"h":12.6,"v":2},{"s":23,"h":13.4,"v":0.5},{"s":23,"h":14.2,"v":-1},{"s":23,"h":15,"v":-2.5},{"s":23,"h":15.2,"v":1},{"s":23,"h":16,"v":0},{"s":23,"h":16.8,"v":-1.5},{"s":23,"h":17.6,"v":-3},{"s":23,"h":17.8,"v":1.5},{"s":23,"h":18.6,"v":0},{"s":23,"h":19.4,"v":-1.5},{"s":23,"h":20.2,"v":-3},{"s":23,"h":20.4,"v":3.5},{"s":23,"h":21.2,"v":2},{"s":23,"h":22,"v":0.5},{"s":23,"h":22.8,"v":-1},{"s":23,"h":23,"v":3},{"s":23,"h":23.8,"v":2},
{"s":24,"h":0,"v":0.5},{"s":24,"h":0.7,"v":-0.8},{"s":24,"h":1.4,"v":-2},{"s":24,"h":2.1,"v":-3.2},{"s":24,"h":2.3,"v":0},{"s":24,"h":3,"v":-1.5},{"s":24,"h":3.7,"v":-2.8},{"s":24,"h":4.4,"v":-4},{"s":24,"h":4.6,"v":-1},{"s":24,"h":5.3,"v":-2.5},{"s":24,"h":6,"v":-4},{"s":24,"h":6.7,"v":-5.5},{"s":24,"h":6.9,"v":-2},{"s":24,"h":7.6,"v":-3.5},{"s":24,"h":8.3,"v":-5},{"s":24,"h":9,"v":-6},{"s":24,"h":9.2,"v":-3},{"s":24,"h":10,"v":-4.5},{"s":24,"h":10.8,"v":-6},{"s":24,"h":11.6,"v":-7.5},{"s":24,"h":11.8,"v":-3.5},{"s":24,"h":12.6,"v":-5},{"s":24,"h":13.4,"v":-6.5},{"s":24,"h":14.2,"v":-8},{"s":24,"h":14.4,"v":-5},{"s":24,"h":15.2,"v":-6.5},{"s":24,"h":16,"v":-8},{"s":24,"h":16.8,"v":-9.5},{"s":24,"h":17,"v":-6.5},{"s":24,"h":17.8,"v":-8},{"s":24,"h":18.6,"v":-9.5},{"s":24,"h":18.8,"v":-6},{"s":24,"h":19.6,"v":-7.5},{"s":24,"h":20.4,"v":-9},{"s":24,"h":21.2,"v":-10.5},{"s":24,"h":21.4,"v":-7.5},{"s":24,"h":22.2,"v":-9},{"s":24,"h":23,"v":-10.5},{"s":24,"h":23.8,"v":-11.5},
{"s":25,"h":0,"v":-0.5},{"s":25,"h":0.7,"v":-2},{"s":25,"h":1.4,"v":-3.2},{"s":25,"h":2.1,"v":-4.5},{"s":25,"h":2.8,"v":-5.5},{"s":25,"h":3,"v":-3},{"s":25,"h":3.7,"v":-4.5},{"s":25,"h":4.4,"v":-6},{"s":25,"h":5.1,"v":-7.5},{"s":25,"h":5.3,"v":-5},{"s":25,"h":6,"v":-6.5},{"s":25,"h":6.7,"v":-8},{"s":25,"h":7.4,"v":-9.5},{"s":25,"h":7.6,"v":-6.5},{"s":25,"h":8.4,"v":-8},{"s":25,"h":9.2,"v":-9.5},{"s":25,"h":10,"v":-11},{"s":25,"h":10.2,"v":-8},{"s":25,"h":11,"v":-9.5},{"s":25,"h":11.8,"v":-11},{"s":25,"h":12.6,"v":-12.5},{"s":25,"h":12.8,"v":-9.5},{"s":25,"h":13.6,"v":-11},{"s":25,"h":14.4,"v":-12.5},{"s":25,"h":15.2,"v":-14},{"s":25,"h":15.4,"v":-11},{"s":25,"h":16.2,"v":-12.5},{"s":25,"h":17,"v":-14},{"s":25,"h":17.2,"v":-10},{"s":25,"h":18,"v":-11.5},{"s":25,"h":18.8,"v":-13},{"s":25,"h":19.6,"v":-14.5},{"s":25,"h":19.8,"v":-11.5},{"s":25,"h":20.6,"v":-13},{"s":25,"h":21.4,"v":-14.5},{"s":25,"h":21.6,"v":-11},{"s":25,"h":22.4,"v":-12.5},{"s":25,"h":23.2,"v":-14},{"s":25,"h":23.8,"v":-15},
{"s":26,"h":0,"v":2.5},{"s":26,"h":0.5,"v":1.5},{"s":26,"h":1,"v":4.5},{"s":26,"h":1.6,"v":3.5},{"s":26,"h":2.2,"v":2.5},{"s":26,"h":2.4,"v":6},{"s":26,"h":3,"v":5},{"s":26,"h":3.7,"v":4},{"s":26,"h":4.4,"v":3},{"s":26,"h":4.6,"v":7},{"s":26,"h":5.3,"v":6},{"s":26,"h":6,"v":5},{"s":26,"h":6.7,"v":4},{"s":26,"h":6.9,"v":8.5},{"s":26,"h":7.6,"v":7.5},{"s":26,"h":8.3,"v":6.5},{"s":26,"h":9,"v":5.5},{"s":26,"h":9.2,"v":10},{"s":26,"h":9.9,"v":9},{"s":26,"h":10.6,"v":8},{"s":26,"h":11.3,"v":7},{"s":26,"h":11.5,"v":11},{"s":26,"h":12.2,"v":10},{"s":26,"h":12.9,"v":9},{"s":26,"h":13.6,"v":8},{"s":26,"h":14.3,"v":7},{"s":26,"h":14.5,"v":10.5},{"s":26,"h":15.2,"v":9.5},{"s":26,"h":16,"v":8.5},{"s":26,"h":16.7,"v":7.5},{"s":26,"h":16.9,"v":11},{"s":26,"h":17.6,"v":10},{"s":26,"h":18.3,"v":9},{"s":26,"h":19,"v":8},{"s":26,"h":19.7,"v":7},{"s":26,"h":19.9,"v":10},{"s":26,"h":20.6,"v":9},{"s":26,"h":21.3,"v":8},{"s":26,"h":22,"v":7},{"s":26,"h":22.2,"v":9.5},{"s":26,"h":23,"v":8.5},{"s":26,"h":23.8,"v":7.5},
{"s":27,"h":0,"v":0},{"s":27,"h":0.7,"v":-1.2},{"s":27,"h":1.4,"v":-2.5},{"s":27,"h":2.1,"v":-3.5},{"s":27,"h":2.8,"v":-4.5},{"s":27,"h":3,"v":-1},{"s":27,"h":3.7,"v":-2.5},{"s":27,"h":4.4,"v":-3.5},{"s":27,"h":5.1,"v":-5},{"s":27,"h":5.8,"v":-6},{"s":27,"h":6,"v":-2.5},{"s":27,"h":6.7,"v":-4},{"s":27,"h":7.4,"v":-5},{"s":27,"h":8.1,"v":-6.5},{"s":27,"h":8.3,"v":-3},{"s":27,"h":9,"v":-4.5},{"s":27,"h":9.7,"v":-5.5},{"s":27,"h":10.4,"v":-7},{"s":27,"h":11.1,"v":-8},{"s":27,"h":11.3,"v":-4},{"s":27,"h":12,"v":-5.5},{"s":27,"h":12.7,"v":-6.5},{"s":27,"h":13.4,"v":-8},{"s":27,"h":13.6,"v":-4.5},{"s":27,"h":14.3,"v":-6},{"s":27,"h":15,"v":-7},{"s":27,"h":15.7,"v":-8.5},{"s":27,"h":15.9,"v":-5},{"s":27,"h":16.6,"v":-6.5},{"s":27,"h":17.3,"v":-7.5},{"s":27,"h":18,"v":-9},{"s":27,"h":18.2,"v":-6},{"s":27,"h":19,"v":-7.5},{"s":27,"h":19.8,"v":-9},{"s":27,"h":20.6,"v":-10.5},{"s":27,"h":20.8,"v":-5.5},{"s":27,"h":21.6,"v":-7},{"s":27,"h":22.4,"v":-8.5},{"s":27,"h":23.2,"v":-10},{"s":27,"h":23.4,"v":-7},{"s":27,"h":23.8,"v":-7.5},
{"s":28,"h":0,"v":3},{"s":28,"h":0.7,"v":2},{"s":28,"h":1.4,"v":1},{"s":28,"h":1.6,"v":6},{"s":28,"h":2.3,"v":5},{"s":28,"h":3,"v":4},{"s":28,"h":3.2,"v":8},{"s":28,"h":3.9,"v":7},{"s":28,"h":4.6,"v":6},{"s":28,"h":5.3,"v":5},{"s":28,"h":6,"v":4},{"s":28,"h":6.2,"v":8.5},{"s":28,"h":6.9,"v":7.5},{"s":28,"h":7.6,"v":6.5},{"s":28,"h":8.3,"v":5.5},{"s":28,"h":9,"v":4.5},{"s":28,"h":9.2,"v":8},{"s":28,"h":9.9,"v":7},{"s":28,"h":10.6,"v":6},{"s":28,"h":11.3,"v":5},{"s":28,"h":12,"v":4},{"s":28,"h":12.2,"v":7.5},{"s":28,"h":12.9,"v":6.5},{"s":28,"h":13.6,"v":5.5},{"s":28,"h":14.3,"v":4.5},{"s":28,"h":15,"v":3.5},{"s":28,"h":15.2,"v":7},{"s":28,"h":16,"v":6},{"s":28,"h":16.8,"v":5},{"s":28,"h":17.6,"v":4},{"s":28,"h":18.4,"v":3},{"s":28,"h":18.6,"v":6.5},{"s":28,"h":19.4,"v":5.5},{"s":28,"h":20.2,"v":4.5},{"s":28,"h":21,"v":3.5},{"s":28,"h":21.8,"v":2.5},{"s":28,"h":22,"v":5.5},{"s":28,"h":22.8,"v":4.5},{"s":28,"h":23.8,"v":3.5},
{"s":29,"h":0,"v":-1},{"s":29,"h":0.6,"v":-2},{"s":29,"h":1.2,"v":-3},{"s":29,"h":1.8,"v":-4},{"s":29,"h":2,"v":-1.5},{"s":29,"h":2.7,"v":-2.5},{"s":29,"h":3.4,"v":-3.5},{"s":29,"h":4.1,"v":-4.5},{"s":29,"h":4.8,"v":-5.5},{"s":29,"h":5,"v":-2.5},{"s":29,"h":5.7,"v":-3.5},{"s":29,"h":6.4,"v":-4.5},{"s":29,"h":7.1,"v":-5.5},{"s":29,"h":7.8,"v":-6.5},{"s":29,"h":8,"v":-3.5},{"s":29,"h":8.7,"v":-4.5},{"s":29,"h":9.4,"v":-5.5},{"s":29,"h":10.1,"v":-6.5},{"s":29,"h":10.3,"v":-2.5},{"s":29,"h":11,"v":-3.5},{"s":29,"h":11.7,"v":-4.5},{"s":29,"h":12.4,"v":-5.5},{"s":29,"h":13.1,"v":-6.5},{"s":29,"h":13.3,"v":-3},{"s":29,"h":14,"v":-4},{"s":29,"h":14.7,"v":-5},{"s":29,"h":15.4,"v":-6},{"s":29,"h":15.6,"v":-2},{"s":29,"h":16.3,"v":-3},{"s":29,"h":17,"v":-4},{"s":29,"h":17.7,"v":-5},{"s":29,"h":18.4,"v":-6},{"s":29,"h":18.6,"v":-2.5},{"s":29,"h":19.3,"v":-3.5},{"s":29,"h":20,"v":-4.5},{"s":29,"h":20.7,"v":-5.5},{"s":29,"h":20.9,"v":-1.5},{"s":29,"h":21.6,"v":-2.5},{"s":29,"h":22.3,"v":-3.5},{"s":29,"h":23,"v":-4.5},{"s":29,"h":23.8,"v":-5.5},
{"s":30,"h":0,"v":-1},{"s":30,"h":0.7,"v":-2.5},{"s":30,"h":1.4,"v":-3.8},{"s":30,"h":2.1,"v":-5},{"s":30,"h":2.3,"v":-2.5},{"s":30,"h":3,"v":-4},{"s":30,"h":3.7,"v":-5.5},{"s":30,"h":4.4,"v":-7},{"s":30,"h":5.1,"v":-8},{"s":30,"h":5.3,"v":-5},{"s":30,"h":6,"v":-6.5},{"s":30,"h":6.7,"v":-8},{"s":30,"h":7.4,"v":-9.5},{"s":30,"h":7.6,"v":-6},{"s":30,"h":8.3,"v":-7.5},{"s":30,"h":9,"v":-9},{"s":30,"h":9.7,"v":-10},{"s":30,"h":9.9,"v":-6.5},{"s":30,"h":10.6,"v":-8},{"s":30,"h":11.3,"v":-9.5},{"s":30,"h":12,"v":-10.5},{"s":30,"h":12.2,"v":-4.5},{"s":30,"h":12.9,"v":-6},{"s":30,"h":13.6,"v":-7.5},{"s":30,"h":14.3,"v":-9},{"s":30,"h":15,"v":-10},{"s":30,"h":15.2,"v":-6.5},{"s":30,"h":16,"v":-8},{"s":30,"h":16.8,"v":-9.5},{"s":30,"h":17.6,"v":-11},{"s":30,"h":17.8,"v":-5.5},{"s":30,"h":18.6,"v":-7},{"s":30,"h":19.4,"v":-8.5},{"s":30,"h":20.2,"v":-10},{"s":30,"h":20.4,"v":-6},{"s":30,"h":21.2,"v":-7.5},{"s":30,"h":22,"v":-9},{"s":30,"h":22.8,"v":-10.5},{"s":30,"h":23,"v":-6},{"s":30,"h":23.8,"v":-7},
{"s":31,"h":0,"v":1},{"s":31,"h":0.7,"v":0},{"s":31,"h":1.4,"v":-1},{"s":31,"h":1.6,"v":2.5},{"s":31,"h":2.3,"v":1.5},{"s":31,"h":3,"v":0.5},{"s":31,"h":3.7,"v":-0.5},{"s":31,"h":4.4,"v":-1.5},{"s":31,"h":4.6,"v":2},{"s":31,"h":5.3,"v":1},{"s":31,"h":6,"v":0},{"s":31,"h":6.7,"v":-1},{"s":31,"h":7.4,"v":-2},{"s":31,"h":7.6,"v":2},{"s":31,"h":8.3,"v":1},{"s":31,"h":9,"v":0},{"s":31,"h":9.7,"v":-1},{"s":31,"h":9.9,"v":4},{"s":31,"h":10.6,"v":3},{"s":31,"h":11.3,"v":2},{"s":31,"h":12,"v":1},{"s":31,"h":12.7,"v":0},{"s":31,"h":12.9,"v":3.5},{"s":31,"h":13.6,"v":2.5},{"s":31,"h":14.3,"v":1.5},{"s":31,"h":15,"v":0.5},{"s":31,"h":15.7,"v":-0.5},{"s":31,"h":15.9,"v":3},{"s":31,"h":16.6,"v":2},{"s":31,"h":17.3,"v":1},{"s":31,"h":18,"v":0},{"s":31,"h":18.7,"v":-1},{"s":31,"h":18.9,"v":2.5},{"s":31,"h":19.6,"v":1.5},{"s":31,"h":20.3,"v":0.5},{"s":31,"h":21,"v":-0.5},{"s":31,"h":21.2,"v":3},{"s":31,"h":22,"v":2},{"s":31,"h":22.8,"v":1},{"s":31,"h":23.8,"v":0},
{"s":32,"h":0,"v":3},{"s":32,"h":0.7,"v":2},{"s":32,"h":1.4,"v":4.5},{"s":32,"h":2,"v":3.5},{"s":32,"h":2.7,"v":2.5},{"s":32,"h":2.9,"v":6},{"s":32,"h":3.6,"v":5},{"s":32,"h":4.3,"v":4},{"s":32,"h":5,"v":3},{"s":32,"h":5.2,"v":7},{"s":32,"h":5.9,"v":6},{"s":32,"h":6.6,"v":5},{"s":32,"h":7.3,"v":4},{"s":32,"h":7.5,"v":9},{"s":32,"h":8.2,"v":8},{"s":32,"h":8.9,"v":7},{"s":32,"h":9.6,"v":6},{"s":32,"h":10.3,"v":5},{"s":32,"h":10.5,"v":9},{"s":32,"h":11.2,"v":8},{"s":32,"h":11.9,"v":7},{"s":32,"h":12.6,"v":6},{"s":32,"h":12.8,"v":10.5},{"s":32,"h":13.5,"v":9.5},{"s":32,"h":14.2,"v":8.5},{"s":32,"h":14.9,"v":7.5},{"s":32,"h":15.6,"v":6.5},{"s":32,"h":15.8,"v":9.5},{"s":32,"h":16.5,"v":8.5},{"s":32,"h":17.2,"v":7.5},{"s":32,"h":17.9,"v":6.5},{"s":32,"h":18.1,"v":10},{"s":32,"h":18.8,"v":9},{"s":32,"h":19.5,"v":8},{"s":32,"h":20.2,"v":7},{"s":32,"h":20.9,"v":6},{"s":32,"h":21.1,"v":9},{"s":32,"h":21.8,"v":8},{"s":32,"h":22.5,"v":7},{"s":32,"h":23.2,"v":6},{"s":32,"h":23.8,"v":5.5},
{"s":33,"h":0,"v":-0.5},{"s":33,"h":0.6,"v":-1.8},{"s":33,"h":1.2,"v":-3},{"s":33,"h":1.8,"v":-4},{"s":33,"h":2.4,"v":-5},{"s":33,"h":3,"v":-6},{"s":33,"h":3.2,"v":-3.5},{"s":33,"h":3.8,"v":-4.5},{"s":33,"h":4.4,"v":-5.5},{"s":33,"h":5,"v":-6.5},{"s":33,"h":5.6,"v":-7.5},{"s":33,"h":6.2,"v":-8.5},{"s":33,"h":6.4,"v":-6},{"s":33,"h":7,"v":-7},{"s":33,"h":7.6,"v":-8},{"s":33,"h":8.2,"v":-9},{"s":33,"h":8.8,"v":-10},{"s":33,"h":9.4,"v":-11},{"s":33,"h":9.6,"v":-8},{"s":33,"h":10.2,"v":-9},{"s":33,"h":10.8,"v":-10},{"s":33,"h":11.4,"v":-11},{"s":33,"h":12,"v":-12},{"s":33,"h":12.2,"v":-9.5},{"s":33,"h":12.8,"v":-10.5},{"s":33,"h":13.4,"v":-11.5},{"s":33,"h":14,"v":-12.5},{"s":33,"h":14.6,"v":-13.5},{"s":33,"h":14.8,"v":-10},{"s":33,"h":15.4,"v":-11},{"s":33,"h":16,"v":-12},{"s":33,"h":16.6,"v":-13},{"s":33,"h":17.2,"v":-14},{"s":33,"h":17.4,"v":-11},{"s":33,"h":18,"v":-12},{"s":33,"h":18.6,"v":-13},{"s":33,"h":19.2,"v":-14},{"s":33,"h":19.8,"v":-15},{"s":33,"h":20,"v":-12},{"s":33,"h":20.6,"v":-13},{"s":33,"h":21.2,"v":-14},{"s":33,"h":21.8,"v":-15},{"s":33,"h":22.4,"v":-16},{"s":33,"h":22.6,"v":-13.5},{"s":33,"h":23.2,"v":-14.5},{"s":33,"h":23.8,"v":-15.5},
{"s":34,"h":0,"v":2},{"s":34,"h":0.7,"v":1},{"s":34,"h":1.4,"v":0},{"s":34,"h":1.6,"v":4},{"s":34,"h":2.3,"v":3},{"s":34,"h":3,"v":2},{"s":34,"h":3.2,"v":6},{"s":34,"h":3.9,"v":5},{"s":34,"h":4.6,"v":4},{"s":34,"h":5.3,"v":3},{"s":34,"h":5.5,"v":7.5},{"s":34,"h":6.2,"v":6.5},{"s":34,"h":6.9,"v":5.5},{"s":34,"h":7.6,"v":4.5},{"s":34,"h":8.3,"v":3.5},{"s":34,"h":8.5,"v":7},{"s":34,"h":9.2,"v":6},{"s":34,"h":9.9,"v":5},{"s":34,"h":10.6,"v":4},{"s":34,"h":10.8,"v":8.5},{"s":34,"h":11.5,"v":7.5},{"s":34,"h":12.2,"v":6.5},{"s":34,"h":12.9,"v":5.5},{"s":34,"h":13.6,"v":4.5},{"s":34,"h":13.8,"v":8},{"s":34,"h":14.5,"v":7},{"s":34,"h":15.2,"v":6},{"s":34,"h":15.9,"v":5},{"s":34,"h":16.6,"v":4},{"s":34,"h":16.8,"v":9},{"s":34,"h":17.5,"v":8},{"s":34,"h":18.2,"v":7},{"s":34,"h":18.9,"v":6},{"s":34,"h":19.1,"v":9.5},{"s":34,"h":19.8,"v":8.5},{"s":34,"h":20.5,"v":7.5},{"s":34,"h":21.2,"v":6.5},{"s":34,"h":21.9,"v":5.5},{"s":34,"h":22.1,"v":9.5},{"s":34,"h":22.8,"v":8.5},{"s":34,"h":23.8,"v":7.5},
{"s":35,"h":0,"v":1},{"s":35,"h":0.7,"v":0},{"s":35,"h":1.4,"v":-1},{"s":35,"h":2.1,"v":-2},{"s":35,"h":2.3,"v":1.5},{"s":35,"h":3,"v":0.5},{"s":35,"h":3.7,"v":-0.5},{"s":35,"h":4.4,"v":-1.5},{"s":35,"h":4.6,"v":3},{"s":35,"h":5.3,"v":2},{"s":35,"h":6,"v":1},{"s":35,"h":6.7,"v":0},{"s":35,"h":6.9,"v":4},{"s":35,"h":7.6,"v":3},{"s":35,"h":8.3,"v":2},{"s":35,"h":9,"v":1},{"s":35,"h":9.2,"v":5.5},{"s":35,"h":9.9,"v":4.5},{"s":35,"h":10.6,"v":3.5},{"s":35,"h":11.3,"v":2.5},{"s":35,"h":12,"v":1.5},{"s":35,"h":12.2,"v":5},{"s":35,"h":12.9,"v":4},{"s":35,"h":13.6,"v":3},{"s":35,"h":14.3,"v":2},{"s":35,"h":15,"v":1},{"s":35,"h":15.2,"v":4.5},{"s":35,"h":15.9,"v":3.5},{"s":35,"h":16.6,"v":2.5},{"s":35,"h":17.3,"v":1.5},{"s":35,"h":18,"v":0.5},{"s":35,"h":18.2,"v":4},{"s":35,"h":18.9,"v":3},{"s":35,"h":19.6,"v":2},{"s":35,"h":20.3,"v":1},{"s":35,"h":21,"v":0},{"s":35,"h":21.2,"v":3.5},{"s":35,"h":21.9,"v":2.5},{"s":35,"h":22.6,"v":1.5},{"s":35,"h":23.8,"v":0.5},
{"s":36,"h":0,"v":4},{"s":36,"h":0.7,"v":3},{"s":36,"h":1.4,"v":2},{"s":36,"h":2.1,"v":1},{"s":36,"h":2.3,"v":5},{"s":36,"h":3,"v":4},{"s":36,"h":3.7,"v":3},{"s":36,"h":4.4,"v":2},{"s":36,"h":4.6,"v":6},{"s":36,"h":5.3,"v":5},{"s":36,"h":6,"v":4},{"s":36,"h":6.7,"v":3},{"s":36,"h":6.9,"v":7.5},{"s":36,"h":7.6,"v":6.5},{"s":36,"h":8.3,"v":5.5},{"s":36,"h":9,"v":4.5},{"s":36,"h":9.7,"v":3.5},{"s":36,"h":9.9,"v":8},{"s":36,"h":10.6,"v":7},{"s":36,"h":11.3,"v":6},{"s":36,"h":12,"v":5},{"s":36,"h":12.2,"v":9.5},{"s":36,"h":12.9,"v":8.5},{"s":36,"h":13.6,"v":7.5},{"s":36,"h":14.3,"v":6.5},{"s":36,"h":15,"v":5.5},{"s":36,"h":15.2,"v":10},{"s":36,"h":15.9,"v":9},{"s":36,"h":16.6,"v":8},{"s":36,"h":17.3,"v":7},{"s":36,"h":18,"v":6},{"s":36,"h":18.2,"v":11},{"s":36,"h":18.9,"v":10},{"s":36,"h":19.6,"v":9},{"s":36,"h":20.3,"v":8},{"s":36,"h":21,"v":7},{"s":36,"h":21.2,"v":10.5},{"s":36,"h":21.9,"v":9.5},{"s":36,"h":22.6,"v":8.5},{"s":36,"h":23.1,"v":12},{"s":36,"h":23.2,"v":16.6},{"s":36,"h":23.5,"v":16},{"s":36,"h":23.8,"v":17},
{"s":37,"h":0,"v":0},{"s":37,"h":0.4,"v":-1},{"s":37,"h":0.9,"v":-2.2},{"s":37,"h":1.3,"v":-1.5},{"s":37,"h":1.8,"v":-3},{"s":37,"h":2.4,"v":-4.2},{"s":37,"h":2.9,"v":-5.5},{"s":37,"h":3.1,"v":-4},{"s":37,"h":3.6,"v":-5.2},{"s":37,"h":4.3,"v":-6.8},{"s":37,"h":4.9,"v":-7.5},{"s":37,"h":5.4,"v":-8.9},{"s":37,"h":5.6,"v":-7.2},{"s":37,"h":6.2,"v":-8.5},{"s":37,"h":6.9,"v":-10},{"s":37,"h":7.5,"v":-11.2},{"s":37,"h":7.7,"v":-8},{"s":37,"h":8.3,"v":-9.3},{"s":37,"h":8.8,"v":-10.5},{"s":37,"h":9.5,"v":-12},{"s":37,"h":10.1,"v":-13.1},{"s":37,"h":10.3,"v":-10.5},{"s":37,"h":11,"v":-12},{"s":37,"h":11.6,"v":-13.4},{"s":37,"h":12.2,"v":-14.2},{"s":37,"h":12.4,"v":-11},{"s":37,"h":13.1,"v":-12.5},{"s":37,"h":13.9,"v":-14},{"s":37,"h":14.5,"v":-15.5},{"s":37,"h":15.2,"v":-16.3},{"s":37,"h":15.4,"v":-13},{"s":37,"h":16.1,"v":-14.5},{"s":37,"h":16.9,"v":-16},{"s":37,"h":17.5,"v":-17.2},{"s":37,"h":17.7,"v":-14},{"s":37,"h":18.5,"v":-15.6},{"s":37,"h":19.3,"v":-17},{"s":37,"h":20,"v":-18},{"s":37,"h":20.2,"v":-14.5},{"s":37,"h":21,"v":-16},{"s":37,"h":21.7,"v":-17.3},{"s":37,"h":22.5,"v":-18.5},{"s":37,"h":23.1,"v":-19},{"s":37,"h":23.3,"v":-16},{"s":37,"h":23.8,"v":-17},
{"s":38,"h":0,"v":1.5},{"s":38,"h":0.5,"v":0.3},{"s":38,"h":1.1,"v":-1},{"s":38,"h":1.7,"v":-2.3},{"s":38,"h":2.2,"v":-3.4},{"s":38,"h":2.4,"v":-1.8},{"s":38,"h":3,"v":-3},{"s":38,"h":3.5,"v":-4.4},{"s":38,"h":4,"v":-5.5},{"s":38,"h":4.6,"v":-6.2},{"s":38,"h":4.8,"v":-3.5},{"s":38,"h":5.4,"v":-4.8},{"s":38,"h":6.1,"v":-6},{"s":38,"h":6.6,"v":-7.4},{"s":38,"h":7.3,"v":-8.5},{"s":38,"h":7.9,"v":-9.8},{"s":38,"h":8.1,"v":-7},{"s":38,"h":8.8,"v":-8.3},{"s":38,"h":9.4,"v":-9.5},{"s":38,"h":9.6,"v":-5},{"s":38,"h":10.3,"v":-6.4},{"s":38,"h":11,"v":-7.8},{"s":38,"h":11.7,"v":-9},{"s":38,"h":12.4,"v":-10.5},{"s":38,"h":13,"v":-11.5},{"s":38,"h":13.2,"v":-8.5},{"s":38,"h":13.9,"v":-10},{"s":38,"h":14.6,"v":-11.3},{"s":38,"h":15.2,"v":-12.6},{"s":38,"h":15.4,"v":-9},{"s":38,"h":16.1,"v":-10.2},{"s":38,"h":16.9,"v":-11.6},{"s":38,"h":17.6,"v":-13},{"s":38,"h":18.3,"v":-14.2},{"s":38,"h":18.5,"v":-10.5},{"s":38,"h":19.3,"v":-11.8},{"s":38,"h":20.1,"v":-13.2},{"s":38,"h":20.8,"v":-14.5},{"s":38,"h":21,"v":-8},{"s":38,"h":21.7,"v":-9.4},{"s":38,"h":22.5,"v":-10.6},{"s":38,"h":23.2,"v":-12},{"s":38,"h":23.8,"v":-13},
{"s":39,"h":0,"v":-0.5},{"s":39,"h":0.6,"v":-1.8},{"s":39,"h":1.1,"v":-2.7},{"s":39,"h":1.7,"v":-4},{"s":39,"h":2.3,"v":-5.1},{"s":39,"h":2.9,"v":-6.3},{"s":39,"h":3.4,"v":-7.5},{"s":39,"h":3.6,"v":-5.5},{"s":39,"h":4.2,"v":-6.7},{"s":39,"h":4.8,"v":-8},{"s":39,"h":5.5,"v":-9.3},{"s":39,"h":6.1,"v":-10.4},{"s":39,"h":6.3,"v":-8.5},{"s":39,"h":6.9,"v":-9.8},{"s":39,"h":7.6,"v":-11},{"s":39,"h":8.2,"v":-12.3},{"s":39,"h":8.4,"v":-9.5},{"s":39,"h":9.1,"v":-10.6},{"s":39,"h":9.8,"v":-11.9},{"s":39,"h":10.4,"v":-13.2},{"s":39,"h":10.6,"v":-10},{"s":39,"h":11.3,"v":-11.3},{"s":39,"h":12,"v":-12.7},{"s":39,"h":12.8,"v":-14},{"s":39,"h":13.5,"v":-15.2},{"s":39,"h":13.7,"v":-12.5},{"s":39,"h":14.4,"v":-13.7},{"s":39,"h":15.1,"v":-14.6},{"s":39,"h":15.8,"v":-16},{"s":39,"h":16,"v":-12},{"s":39,"h":16.7,"v":-13.2},{"s":39,"h":17.4,"v":-14.6},{"s":39,"h":18.1,"v":-15.8},{"s":39,"h":18.3,"v":-12.5},{"s":39,"h":19,"v":-13.5},{"s":39,"h":19.8,"v":-15},{"s":39,"h":20.5,"v":-16.2},{"s":39,"h":20.7,"v":-13},{"s":39,"h":21.5,"v":-14.2},{"s":39,"h":22.3,"v":-15.5},{"s":39,"h":22.5,"v":-12.5},{"s":39,"h":23.2,"v":-13.8},{"s":39,"h":23.8,"v":-14.6},
{"s":40,"h":0,"v":0},{"s":40,"h":0.5,"v":-1},{"s":40,"h":1,"v":-2.1},{"s":40,"h":1.6,"v":-3.2},{"s":40,"h":1.8,"v":-1.4},{"s":40,"h":2.4,"v":-2.6},{"s":40,"h":3,"v":-3.8},{"s":40,"h":3.5,"v":-4.9},{"s":40,"h":3.7,"v":-2},{"s":40,"h":4.3,"v":-3.2},{"s":40,"h":5,"v":-4.5},{"s":40,"h":5.6,"v":-5.7},{"s":40,"h":6.2,"v":-6.6},{"s":40,"h":6.4,"v":-4.3},{"s":40,"h":7,"v":-5.6},{"s":40,"h":7.7,"v":-6.8},{"s":40,"h":8.3,"v":-8},{"s":40,"h":8.9,"v":-9.1},{"s":40,"h":9.1,"v":-6},{"s":40,"h":9.8,"v":-7.4},{"s":40,"h":10.5,"v":-8.5},{"s":40,"h":11.1,"v":-9.7},{"s":40,"h":11.3,"v":-7.5},{"s":40,"h":12,"v":-8.8},{"s":40,"h":12.7,"v":-10},{"s":40,"h":13.4,"v":-11.2},{"s":40,"h":13.6,"v":-7.8},{"s":40,"h":14.3,"v":-9},{"s":40,"h":15,"v":-10.2},{"s":40,"h":15.7,"v":-11.5},{"s":40,"h":16.4,"v":-12.7},{"s":40,"h":16.6,"v":-9},{"s":40,"h":17.3,"v":-10.3},{"s":40,"h":18,"v":-11.5},{"s":40,"h":18.2,"v":-8},{"s":40,"h":19,"v":-9.3},{"s":40,"h":19.7,"v":-10.7},{"s":40,"h":20.4,"v":-11.8},{"s":40,"h":20.6,"v":-8.5},{"s":40,"h":21.4,"v":-9.8},{"s":40,"h":22.2,"v":-11.1},{"s":40,"h":23,"v":-12.4},{"s":40,"h":23.2,"v":-9.5},{"s":40,"h":23.8,"v":-10.4},
{"s":41,"h":0,"v":0.5},{"s":41,"h":0.6,"v":-0.7},{"s":41,"h":1.2,"v":-1.8},{"s":41,"h":1.4,"v":1},{"s":41,"h":2,"v":-0.2},{"s":41,"h":2.7,"v":-1.5},{"s":41,"h":3.3,"v":-2.6},{"s":41,"h":3.9,"v":-3.7},{"s":41,"h":4.1,"v":-0.5},{"s":41,"h":4.8,"v":-1.8},{"s":41,"h":5.4,"v":-3},{"s":41,"h":6,"v":-4.2},{"s":41,"h":6.2,"v":-1.2},{"s":41,"h":6.9,"v":-2.5},{"s":41,"h":7.5,"v":-3.7},{"s":41,"h":8.2,"v":-4.9},{"s":41,"h":8.4,"v":-2},{"s":41,"h":9.1,"v":-3.3},{"s":41,"h":9.7,"v":-4.5},{"s":41,"h":10.4,"v":-5.7},{"s":41,"h":10.6,"v":-2.8},{"s":41,"h":11.3,"v":-4},{"s":41,"h":12,"v":-5.3},{"s":41,"h":12.7,"v":-6.5},{"s":41,"h":12.9,"v":-3.5},{"s":41,"h":13.6,"v":-4.8},{"s":41,"h":14.3,"v":-6},{"s":41,"h":15,"v":-7.2},{"s":41,"h":15.2,"v":-4},{"s":41,"h":15.9,"v":-5.3},{"s":41,"h":16.6,"v":-6.5},{"s":41,"h":17.3,"v":-7.8},{"s":41,"h":17.5,"v":-2.5},{"s":41,"h":18.2,"v":-3.8},{"s":41,"h":18.9,"v":-5},{"s":41,"h":19.6,"v":-6.2},{"s":41,"h":20.3,"v":-7.4},{"s":41,"h":20.5,"v":-4},{"s":41,"h":21.2,"v":-5.3},{"s":41,"h":21.9,"v":-6.5},{"s":41,"h":22.6,"v":-7.8},{"s":41,"h":22.8,"v":-3.5},{"s":41,"h":23.4,"v":-4.6},{"s":41,"h":23.8,"v":-5.3},
{"s":42,"h":0,"v":1},{"s":42,"h":0.3,"v":3},{"s":42,"h":0.6,"v":5},{"s":42,"h":0.9,"v":7},{"s":42,"h":1,"v":10},{"s":42,"h":1.5,"v":11.8},{"s":42,"h":2,"v":11.5},{"s":42,"h":2.5,"v":10.3},{"s":42,"h":2.9,"v":9.5},{"s":42,"h":3.2,"v":12},{"s":42,"h":3.7,"v":11.3},{"s":42,"h":4.2,"v":10.8},{"s":42,"h":4.6,"v":11.2},{"s":42,"h":5,"v":10},{"s":42,"h":5.5,"v":9},{"s":42,"h":6,"v":8.3},{"s":42,"h":6.5,"v":7.8},{"s":42,"h":6.7,"v":10},{"s":42,"h":7.2,"v":9.2},{"s":42,"h":7.8,"v":8},{"s":42,"h":8.4,"v":7},{"s":42,"h":9,"v":6},{"s":42,"h":9.6,"v":5.2},{"s":42,"h":9.8,"v":8.5},{"s":42,"h":10.5,"v":7.2},{"s":42,"h":11.2,"v":6.2},{"s":42,"h":11.9,"v":5},{"s":42,"h":12.1,"v":9},{"s":42,"h":12.8,"v":8},{"s":42,"h":13.5,"v":7},{"s":42,"h":14.2,"v":6},{"s":42,"h":14.9,"v":5},{"s":42,"h":15.1,"v":9},{"s":42,"h":15.8,"v":8},{"s":42,"h":16.5,"v":7},{"s":42,"h":17.2,"v":6},{"s":42,"h":17.9,"v":5},{"s":42,"h":18.1,"v":12},{"s":42,"h":18.8,"v":11},{"s":42,"h":19.5,"v":10},{"s":42,"h":20.2,"v":9},{"s":42,"h":20.9,"v":8},{"s":42,"h":21.1,"v":11.5},{"s":42,"h":21.8,"v":10.5},{"s":42,"h":22.5,"v":9.5},{"s":42,"h":23.2,"v":8.5},{"s":42,"h":23.8,"v":8},
{"s":43,"h":0,"v":2},{"s":43,"h":0.5,"v":3},{"s":43,"h":1,"v":4.5},{"s":43,"h":1.5,"v":5},{"s":43,"h":2,"v":6},{"s":43,"h":2.6,"v":7.5},{"s":43,"h":3.1,"v":9},{"s":43,"h":3.25,"v":12.4},{"s":43,"h":3.8,"v":11.5},{"s":43,"h":4.3,"v":11.3},{"s":43,"h":4.8,"v":11},{"s":43,"h":5.4,"v":11.8},{"s":43,"h":6,"v":11},{"s":43,"h":6.6,"v":10.2},{"s":43,"h":7,"v":11.2},{"s":43,"h":7.5,"v":10.3},{"s":43,"h":8,"v":9},{"s":43,"h":8.6,"v":8.2},{"s":43,"h":9.2,"v":7.5},{"s":43,"h":9.4,"v":10.5},{"s":43,"h":10,"v":9.5},{"s":43,"h":10.7,"v":8.5},{"s":43,"h":11.4,"v":7.6},{"s":43,"h":12,"v":6.5},{"s":43,"h":12.2,"v":9.8},{"s":43,"h":12.9,"v":8.8},{"s":43,"h":13.6,"v":7.8},{"s":43,"h":14.3,"v":7},{"s":43,"h":14.5,"v":10.5},{"s":43,"h":15.2,"v":9.5},{"s":43,"h":15.9,"v":8.5},{"s":43,"h":16.6,"v":7.5},{"s":43,"h":17.3,"v":6.5},{"s":43,"h":17.5,"v":10},{"s":43,"h":18.2,"v":9},{"s":43,"h":18.9,"v":8},{"s":43,"h":19.6,"v":7},{"s":43,"h":20.3,"v":6},{"s":43,"h":20.5,"v":9.5},{"s":43,"h":21.2,"v":8.5},{"s":43,"h":21.9,"v":7.5},{"s":43,"h":22.6,"v":6.5},{"s":43,"h":23.3,"v":5.5},{"s":43,"h":23.8,"v":5},
{"s":44,"h":0,"v":0},{"s":44,"h":0.5,"v":-1.3},{"s":44,"h":1,"v":-2.5},{"s":44,"h":1.5,"v":-3.6},{"s":44,"h":2,"v":-4.8},{"s":44,"h":2.5,"v":-5.9},{"s":44,"h":2.7,"v":-4.5},{"s":44,"h":3.2,"v":-5.7},{"s":44,"h":3.8,"v":-7},{"s":44,"h":4.3,"v":-8.1},{"s":44,"h":4.9,"v":-9.3},{"s":44,"h":5.4,"v":-10.2},{"s":44,"h":5.6,"v":-8.5},{"s":44,"h":6.2,"v":-9.7},{"s":44,"h":6.8,"v":-10.8},{"s":44,"h":7.4,"v":-12},{"s":44,"h":8,"v":-13.1},{"s":44,"h":8.2,"v":-10},{"s":44,"h":8.9,"v":-11.2},{"s":44,"h":9.6,"v":-12.5},{"s":44,"h":10.3,"v":-13.6},{"s":44,"h":10.5,"v":-11},{"s":44,"h":11.2,"v":-12.2},{"s":44,"h":11.9,"v":-13.5},{"s":44,"h":12.6,"v":-14.7},{"s":44,"h":12.8,"v":-9.5},{"s":44,"h":13.5,"v":-10.8},{"s":44,"h":14.2,"v":-12},{"s":44,"h":14.9,"v":-13.2},{"s":44,"h":15.6,"v":-14.4},{"s":44,"h":15.8,"v":-11},{"s":44,"h":16.5,"v":-12.2},{"s":44,"h":17.2,"v":-13.5},{"s":44,"h":17.9,"v":-14.6},{"s":44,"h":18.1,"v":-8.5},{"s":44,"h":18.8,"v":-9.8},{"s":44,"h":19.5,"v":-11},{"s":44,"h":20.2,"v":-12.3},{"s":44,"h":20.9,"v":-13.5},{"s":44,"h":21.1,"v":-10.5},{"s":44,"h":21.8,"v":-11.8},{"s":44,"h":22.5,"v":-13},{"s":44,"h":23.2,"v":-14.2},{"s":44,"h":23.8,"v":-15.2},
{"s":45,"h":0,"v":1},{"s":45,"h":0.6,"v":0},{"s":45,"h":1.2,"v":-1.2},{"s":45,"h":1.8,"v":-2.3},{"s":45,"h":2.4,"v":-3.5},{"s":45,"h":2.6,"v":-0.5},{"s":45,"h":3.2,"v":-1.7},{"s":45,"h":3.8,"v":-2.8},{"s":45,"h":4.4,"v":-4},{"s":45,"h":5,"v":-5.2},{"s":45,"h":5.2,"v":-2.5},{"s":45,"h":5.8,"v":-3.7},{"s":45,"h":6.4,"v":-4.8},{"s":45,"h":7,"v":-6},{"s":45,"h":7.6,"v":-7.2},{"s":45,"h":8.2,"v":-8.3},{"s":45,"h":8.4,"v":-5},{"s":45,"h":9,"v":-6.2},{"s":45,"h":9.6,"v":-7.5},{"s":45,"h":10.2,"v":-8.7},{"s":45,"h":10.9,"v":-9.8},{"s":45,"h":11.1,"v":-6.5},{"s":45,"h":11.8,"v":-7.8},{"s":45,"h":12.5,"v":-9},{"s":45,"h":13.2,"v":-10.3},{"s":45,"h":13.4,"v":-7},{"s":45,"h":14.1,"v":-8.2},{"s":45,"h":14.8,"v":-9.5},{"s":45,"h":15.5,"v":-10.8},{"s":45,"h":16.2,"v":-12},{"s":45,"h":16.4,"v":-8.5},{"s":45,"h":17.1,"v":-9.8},{"s":45,"h":17.8,"v":-11},{"s":45,"h":18.5,"v":-12.2},{"s":45,"h":18.7,"v":-9},{"s":45,"h":19.4,"v":-10.3},{"s":45,"h":20.1,"v":-11.5},{"s":45,"h":20.8,"v":-12.8},{"s":45,"h":21,"v":-7},{"s":45,"h":21.7,"v":-8.3},{"s":45,"h":22.4,"v":-9.5},{"s":45,"h":23.1,"v":-10.8},{"s":45,"h":23.8,"v":-12},
{"s":46,"h":0,"v":2.5},{"s":46,"h":0.6,"v":1.3},{"s":46,"h":1.2,"v":0.2},{"s":46,"h":1.8,"v":-0.9},{"s":46,"h":2,"v":2},{"s":46,"h":2.6,"v":0.8},{"s":46,"h":3.2,"v":-0.4},{"s":46,"h":3.8,"v":-1.5},{"s":46,"h":4.4,"v":-2.7},{"s":46,"h":4.6,"v":1},{"s":46,"h":5.2,"v":-0.2},{"s":46,"h":5.8,"v":-1.4},{"s":46,"h":6.4,"v":-2.6},{"s":46,"h":7,"v":-3.7},{"s":46,"h":7.2,"v":0.5},{"s":46,"h":7.8,"v":-0.7},{"s":46,"h":8.4,"v":-1.9},{"s":46,"h":9,"v":-3},{"s":46,"h":9.6,"v":-4.2},{"s":46,"h":9.8,"v":-1},{"s":46,"h":10.4,"v":-2.2},{"s":46,"h":11,"v":-3.4},{"s":46,"h":11.6,"v":-4.6},{"s":46,"h":12.2,"v":-5.7},{"s":46,"h":12.4,"v":-1.5},{"s":46,"h":13,"v":-2.7},{"s":46,"h":13.6,"v":-3.9},{"s":46,"h":14.2,"v":-5},{"s":46,"h":14.8,"v":-6.2},{"s":46,"h":15,"v":-3},{"s":46,"h":15.6,"v":-4.2},{"s":46,"h":16.2,"v":-5.4},{"s":46,"h":16.8,"v":-6.6},{"s":46,"h":17.4,"v":-7.8},{"s":46,"h":17.6,"v":-4.5},{"s":46,"h":18.2,"v":-5.7},{"s":46,"h":18.8,"v":-6.9},{"s":46,"h":19.4,"v":-8},{"s":46,"h":20,"v":-9.2},{"s":46,"h":20.2,"v":-5.5},{"s":46,"h":20.8,"v":-6.7},{"s":46,"h":21.4,"v":-7.9},{"s":46,"h":22,"v":-9},{"s":46,"h":22.6,"v":-10.2},{"s":46,"h":22.8,"v":-6},{"s":46,"h":23.4,"v":-7.2},{"s":46,"h":23.8,"v":-8},
{"s":47,"h":0,"v":-0.5},{"s":47,"h":0.6,"v":-1.6},{"s":47,"h":1.2,"v":-2.8},{"s":47,"h":1.4,"v":0},{"s":47,"h":2,"v":-1.2},{"s":47,"h":2.6,"v":-2.4},{"s":47,"h":3.2,"v":-3.5},{"s":47,"h":3.8,"v":-4.7},{"s":47,"h":4,"v":-2},{"s":47,"h":4.6,"v":-3.2},{"s":47,"h":5.2,"v":-4.4},{"s":47,"h":5.8,"v":-5.5},{"s":47,"h":6.4,"v":-6.7},{"s":47,"h":6.6,"v":-1.5},{"s":47,"h":7.2,"v":-2.7},{"s":47,"h":7.8,"v":-3.9},{"s":47,"h":8.4,"v":-5},{"s":47,"h":9,"v":-6.2},{"s":47,"h":9.2,"v":-3.5},{"s":47,"h":9.8,"v":-4.7},{"s":47,"h":10.4,"v":-5.9},{"s":47,"h":11,"v":-7},{"s":47,"h":11.6,"v":-8.2},{"s":47,"h":11.8,"v":-4},{"s":47,"h":12.4,"v":-5.2},{"s":47,"h":13,"v":-6.4},{"s":47,"h":13.6,"v":-7.5},{"s":47,"h":14.2,"v":-8.7},{"s":47,"h":14.4,"v":-5.5},{"s":47,"h":15,"v":-6.7},{"s":47,"h":15.6,"v":-7.9},{"s":47,"h":16.2,"v":-9},{"s":47,"h":16.8,"v":-10.2},{"s":47,"h":17,"v":-6},{"s":47,"h":17.6,"v":-7.2},{"s":47,"h":18.2,"v":-8.4},{"s":47,"h":18.8,"v":-9.5},{"s":47,"h":19,"v":-4.5},{"s":47,"h":19.6,"v":-5.7},{"s":47,"h":20.2,"v":-6.9},{"s":47,"h":20.8,"v":-8},{"s":47,"h":21.4,"v":-9.2},{"s":47,"h":21.6,"v":-6},{"s":47,"h":22.2,"v":-7.2},{"s":47,"h":22.8,"v":-8.4},{"s":47,"h":23.4,"v":-9.5},{"s":47,"h":23.8,"v":-10.3},
{"s":48,"h":0,"v":1.5},{"s":48,"h":0.6,"v":0.4},{"s":48,"h":0.8,"v":3},{"s":48,"h":1.4,"v":1.9},{"s":48,"h":2,"v":0.7},{"s":48,"h":2.6,"v":-0.4},{"s":48,"h":2.8,"v":3.5},{"s":48,"h":3.4,"v":2.3},{"s":48,"h":4,"v":1.2},{"s":48,"h":4.6,"v":0},{"s":48,"h":4.8,"v":4},{"s":48,"h":5.4,"v":2.8},{"s":48,"h":6,"v":1.7},{"s":48,"h":6.6,"v":0.5},{"s":48,"h":7.2,"v":-0.6},{"s":48,"h":7.4,"v":3},{"s":48,"h":8,"v":1.8},{"s":48,"h":8.6,"v":0.7},{"s":48,"h":8.8,"v":5},{"s":48,"h":9.4,"v":3.8},{"s":48,"h":10,"v":2.7},{"s":48,"h":10.6,"v":1.5},{"s":48,"h":11.2,"v":0.4},{"s":48,"h":11.4,"v":5.5},{"s":48,"h":12,"v":4.3},{"s":48,"h":12.6,"v":3.2},{"s":48,"h":13.2,"v":2},{"s":48,"h":13.8,"v":0.9},{"s":48,"h":14,"v":6},{"s":48,"h":14.6,"v":4.8},{"s":48,"h":15.2,"v":3.7},{"s":48,"h":15.8,"v":2.5},{"s":48,"h":16.4,"v":1.4},{"s":48,"h":16.6,"v":7.5},{"s":48,"h":17.2,"v":6.3},{"s":48,"h":17.8,"v":5.2},{"s":48,"h":18.4,"v":4},{"s":48,"h":19,"v":2.9},{"s":48,"h":19.2,"v":6},{"s":48,"h":19.8,"v":4.8},{"s":48,"h":20.4,"v":3.7},{"s":48,"h":21,"v":2.5},{"s":48,"h":21.6,"v":1.4},{"s":48,"h":21.8,"v":5.5},{"s":48,"h":22.4,"v":4.3},{"s":48,"h":23,"v":3.2},{"s":48,"h":23.8,"v":2}
]},
"layer":[
{"mark":{"type":"line","strokeWidth":1,"interpolate":"linear"},
"encoding":{
"x":{"field":"h","type":"quantitative","scale":{"domain":[0,23.8],"nice":false,"zero":false},"axis":{"values":[0,1,2,3,4,5,6,7,8,9,10,11,12,13,14,15,16,17,18,19,20,21,22,23],"format":"d","title":"Hour of Day","labelPadding":12,"titlePadding":6,"labelFlush":false,"labelOverlap":false}},
"y":{"field":"v","type":"quantitative","scale":{"domain":[-40,40],"nice":false},"axis":{"values":[-40,-30,-20,-10,0,10,20,30,40],"title":"Cumulative (Z*Z)-1","labelPadding":12,"titlePadding":10,"labelFlush":false,"labelOverlap":false}},
"color":{"field":"s","type":"nominal","legend":null,"scale":{"domain":[1,2,3,4,5,6,7,8,9,10,11,12,13,14,15,16,17,18,19,20,21,22,23,24,25,26,27,28,29,30,31,32,33,34,35,36,37,38,39,40,41,42,43,44,45,46,47,48],"range":["#000000","#0000ff","#ff50ff","#ff50ff","#ff50ff","#00a000","#ffff00","#ff0000","#b40000","#00ffff","#0000ff","#ffff00","#ffff00","#b40000","#ff0000","#5a5aff","#ff50ff","#00ffff","#00a000","#0000ff","#ff0000","#0000ff","#00a000","#00ffff","#ff50ff","#ff0000","#0000ff","#b40000","#5a5aff","#00a000","#ffff00","#00ffff","#0000ff","#00a000","#5a5aff","#0000ff","#ff0000","#0000ff","#ff50ff","#00ffff","#ff0000","#00a000","#00ffff","#ffff00","#b40000","#5a5aff","#00a000","#ff0000"]}}
}},
{"mark":{"type":"point","opacity":0},
"encoding":{
"x":{"field":"h","type":"quantitative","axis":{"orient":"top","labels":false,"title":null,"values":[0,1,2,3,4,5,6,7,8,9,10,11,12,13,14,15,16,17,18,19,20,21,22,23]}},
"y":{"field":"v","type":"quantitative","axis":{"orient":"right","labels":false,"title":null,"values":[-40,-30,-20,-10,0,10,20,30,40]}}
}}
],
"resolve":{"axis":{"x":"independent","y":"independent"}}
}
